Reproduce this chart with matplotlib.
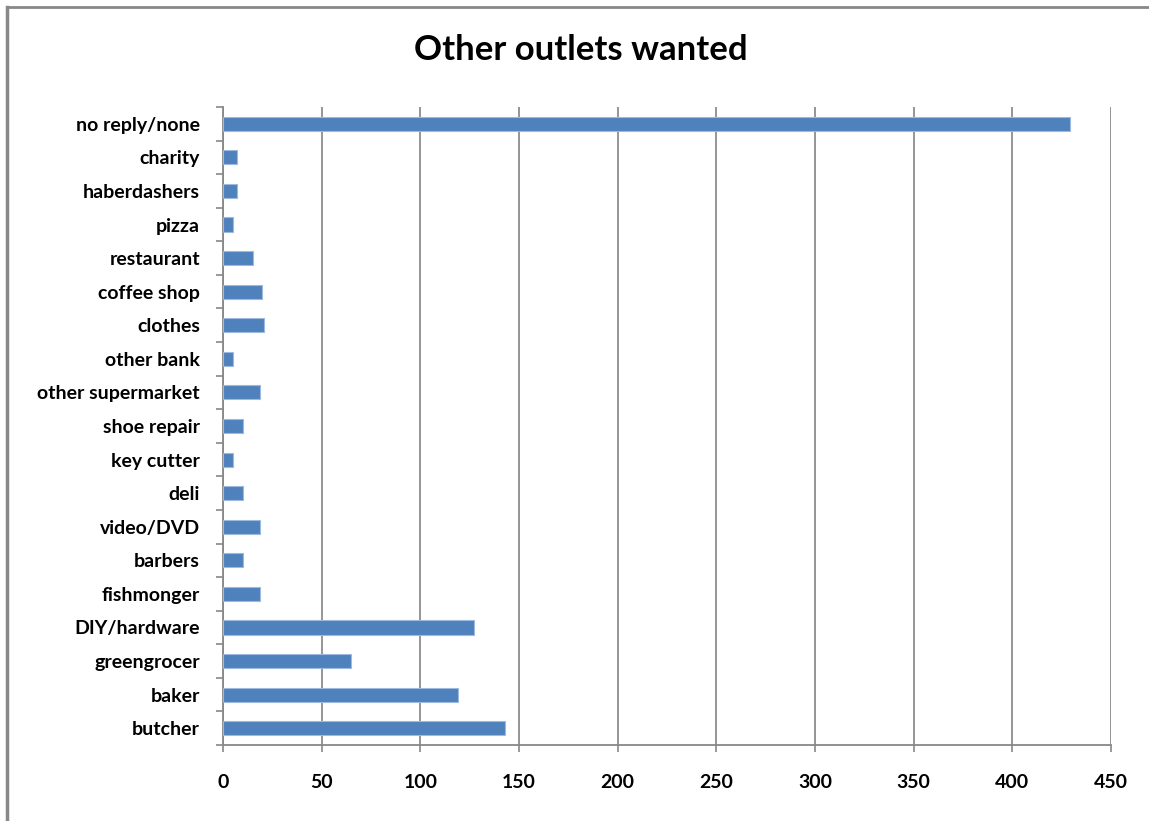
import matplotlib
matplotlib.use('Agg')
import matplotlib.pyplot as plt
from matplotlib.lines import Line2D

# categories, bottom to top
outlets = ['butcher', 'baker', 'greengrocer', 'DIY/hardware', 'fishmonger',
           'barbers', 'video/DVD', 'deli', 'key cutter', 'shoe repair',
           'other supermarket', 'other bank', 'clothes', 'coffee shop',
           'restaurant', 'pizza', 'haberdashers', 'charity', 'no reply/none']
counts = [143, 119, 65, 127, 19, 10, 19, 10, 5, 10, 19, 5, 21, 20, 15, 5, 7, 7, 429]
xticks = [0, 50, 100, 150, 200, 250, 300, 350, 400, 450]

plt.rcParams['font.family'] = ['Lato', 'DejaVu Sans']

fig = plt.figure(figsize=(11.49, 8.21), dpi=100)
ax = fig.add_axes([223 / 1149, 1 - 745 / 821, (1111 - 223) / 1149, (745 - 107) / 821])

pos = list(range(len(outlets)))
ax.barh(pos, counts, height=0.42, color='#4F81BD', edgecolor='#9DB9E0',
        linewidth=0.8, zorder=3)

ax.set_xlim(0, 450)
ax.set_ylim(-0.5, len(outlets) - 0.5)
ax.set_xticks(xticks)
ax.set_xticklabels([str(v) for v in xticks], fontsize=14, fontweight='bold')
ax.set_yticks(pos)
ax.set_yticklabels(outlets, fontsize=14, fontweight='bold')

# tick marks sit between categories on the y axis
ax.set_yticks([p - 0.5 for p in pos] + [len(outlets) - 0.5], minor=True)
ax.tick_params(axis='y', which='major', length=0, pad=16.5)
ax.tick_params(axis='y', which='minor', length=5, width=1.2, color='#888888')
ax.tick_params(axis='x', which='major', length=5, width=1.2, color='#888888', pad=16)

ax.grid(axis='x', color='#8C8C8C', linewidth=1.3, zorder=0)
for s in ['top', 'right']:
    ax.spines[s].set_visible(False)
for s in ['left', 'bottom']:
    ax.spines[s].set_color('#888888')
    ax.spines[s].set_linewidth(1.3)

fig.text(581 / 1149, 1 - 50 / 821, 'Other outlets wanted', ha='center', va='center',
         fontsize=25, fontweight='bold')

# outer chart border (left and top only visible)
fig.add_artist(Line2D([7 / 1149, 7 / 1149], [0, 1 - 7 / 821], transform=fig.transFigure,
                      color='#888888', linewidth=2.5))
fig.add_artist(Line2D([7 / 1149, 1], [1 - 7 / 821, 1 - 7 / 821], transform=fig.transFigure,
                      color='#888888', linewidth=2))

fig.savefig('out.png', dpi=100)
